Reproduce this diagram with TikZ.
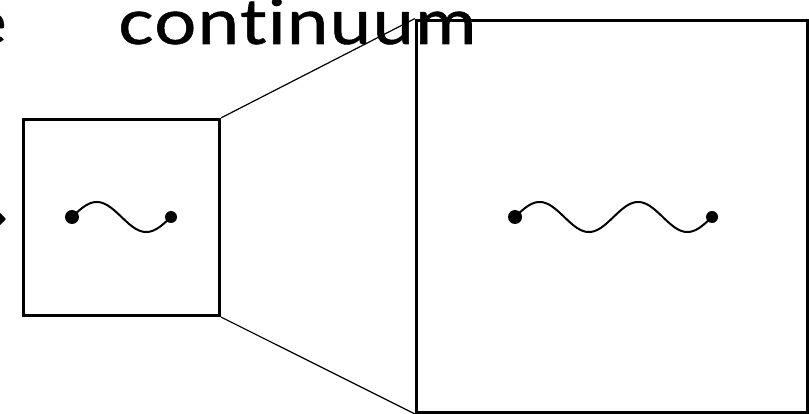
\documentclass[tikz,border=0pt]{standalone}
\usepackage{fontspec}
\setsansfont{Lato}[Ligatures=NoCommon, FakeStretch=1.18, LetterSpace=2, FakeBold=0.8]
\usetikzlibrary{arrows.meta}

\tikzset{
  panel/.style={draw, line width=3.3pt, inner sep=0pt},
  endpt/.style={circle, fill, inner sep=0pt, minimum size=#1},
  zoomline/.style={line width=1.2pt},
  wave/.style={line width=2pt},
  bigword/.style={inner sep=0pt, font=\sffamily\fontsize{63}{63}\selectfont},
}

\begin{document}
\begin{tikzpicture}[x=1pt,y=-1pt]
\useasboundingbox (0,0) rectangle (809,414);
            % heading, cut off at the left
            \node[bigword, anchor=base east] (cut) at (7,44) {e};
            \node[bigword, anchor=base west] (word) at (118,44) {continuum};
            % arrow coming in from the left
            \coordinate (tail) at (-40,219);
            \coordinate (tip) at (6,219);
            \draw[line width=3pt, -{Triangle[length=10pt,width=20pt]}] (tail) -- (tip);
            % the two panels
            \node[panel, minimum width=196pt, minimum height=196pt] (small) at (121.5,217.5) {};
            \node[panel, minimum width=391pt, minimum height=392pt] (big) at (612,216.25) {};
            \draw[zoomline] (small.north east) -- (big.north west);
            \draw[zoomline] (small.south east) -- (big.south west);
            % one wiggle in the small panel
            \node[endpt=14pt] (sl) at (72,217) {};
            \node[endpt=12pt] (sr) at (171,217) {};
            \draw[wave] plot[domain=0:360, samples=73] ({72+\x/360*99}, {217-15*sin(\x)});
            % two wiggles in the big panel
            \node[endpt=14pt] (bl) at (515,217) {};
            \node[endpt=12pt] (br) at (712,217) {};
            \draw[wave] plot[domain=0:720, samples=145] ({515+\x/720*197}, {217-15*sin(\x)});
        \end{tikzpicture}
\end{document}
